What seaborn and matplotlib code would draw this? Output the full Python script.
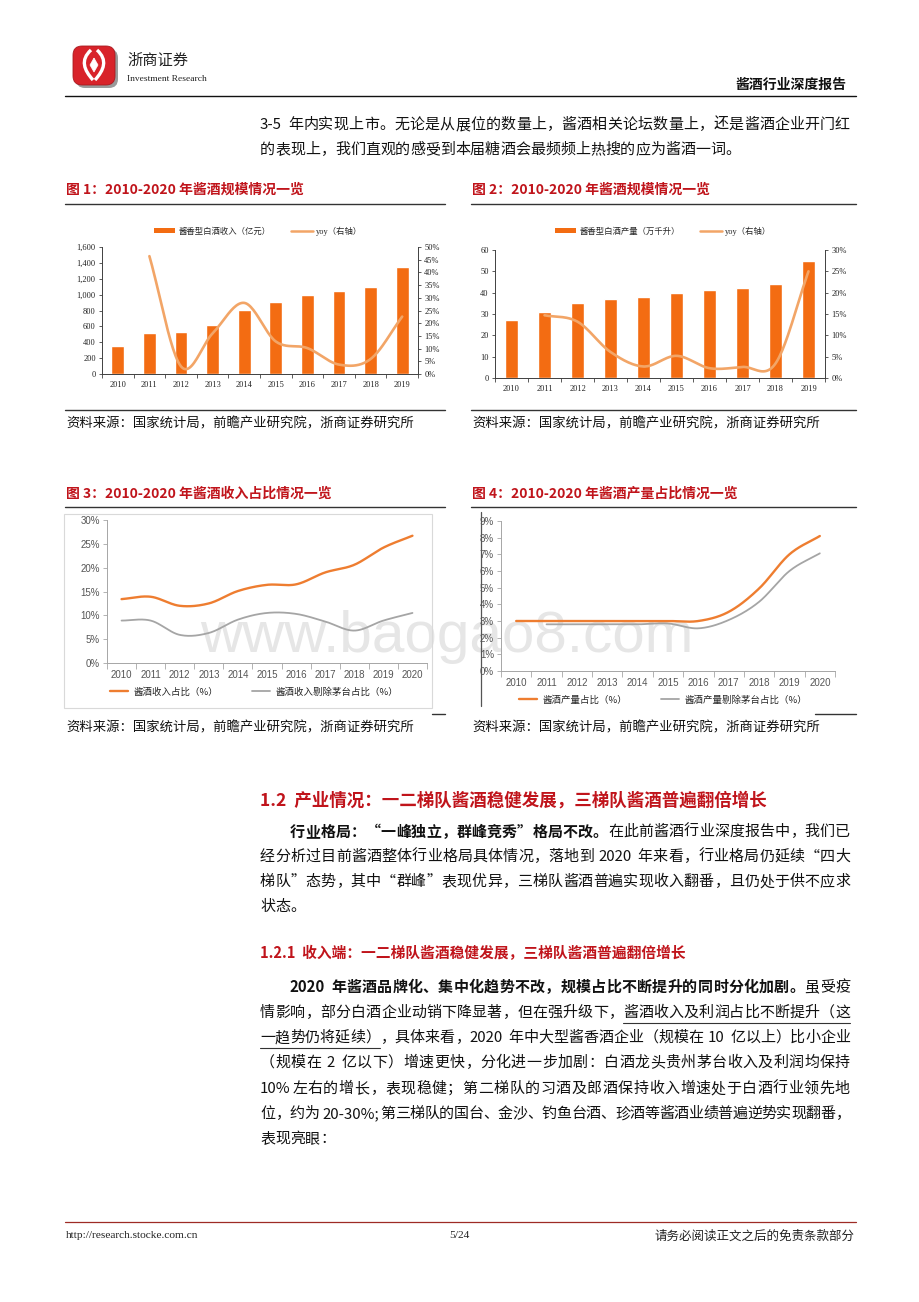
import numpy as np
import pandas as pd
import matplotlib
matplotlib.use("Agg")
import matplotlib.pyplot as plt
import seaborn as sns
from matplotlib.transforms import Affine2D
from matplotlib.lines import Line2D
from matplotlib.patches import FancyBboxPatch, Rectangle, Patch, PathPatch
from matplotlib.path import Path
from matplotlib.ticker import FuncFormatter

# ---------------- data ----------------
years_a = ["2010", "2011", "2012", "2013", "2014", "2015", "2016", "2017", "2018", "2019"]
revenue_100m = [349, 512, 529, 622, 802, 911, 1000, 1041, 1100, 1348]
revenue_yoy = [np.nan, 46.4, 3.0, 16.0, 28.0, 12.8, 10.2, 3.7, 5.9, 22.6]
volume_kkl = [27.1, 30.9, 35.0, 37.0, 38.1, 40.0, 41.1, 42.0, 44.0, 55.0]
volume_yoy = [np.nan, 14.7, 13.2, 6.1, 2.7, 5.2, 2.3, 2.6, 3.4, 25.0]

years_b = ["2010", "2011", "2012", "2013", "2014", "2015", "2016", "2017", "2018", "2019", "2020"]
rev_share = [13.4, 13.9, 12.0, 12.5, 15.1, 16.4, 16.5, 19.0, 20.6, 24.2, 26.7]
rev_share_ex_mt = [8.9, 8.9, 5.9, 6.3, 9.1, 10.5, 10.3, 8.7, 6.8, 8.9, 10.5]
vol_share = [3.0, 3.0, 3.0, 3.0, 3.0, 3.0, 3.0, 3.55, 4.95, 7.0, 8.1]
vol_share_ex_mt = [np.nan, 2.8, 2.8, 2.8, 2.8, 2.85, 2.56, 3.06, 4.15, 6.0, 7.06]

# ---------------- style ----------------
sns.set_style("ticks")
CJK = ['Noto Sans CJK SC', 'DejaVu Sans']
plt.rcParams['font.family'] = CJK
plt.rcParams['axes.unicode_minus'] = False

BAR_C = "#F36C12"
YOY_C = "#F2A567"
ORANGE = "#EE7D30"
GRAY = "#A5A5A5"
RED = "#C0141B"
BODY_SIZE = 10.8

W, H = 920, 1302
fig = plt.figure(figsize=(W / 100, H / 100), dpi=100)
PX = Affine2D().scale(1 / W, -1 / H).translate(0, 1) + fig.transFigure
renderer = fig.canvas.get_renderer()


def ax_at(l, t, r, b):
    a = fig.add_axes([l / W, 1 - b / H, (r - l) / W, (b - t) / H])
    a.set_facecolor('none')
    a.set_zorder(2)
    return a


def hline(x0, x1, y, color='#000000', lw=0.8, z=3):
    fig.add_artist(Line2D([x0, x1], [y, y], transform=PX, color=color, lw=lw, zorder=z))


def vline(x, y0, y1, color='#000000', lw=0.8):
    fig.add_artist(Line2D([x, x], [y0, y1], transform=PX, color=color, lw=lw))


def txt(x, y, s, size, color='#111111', weight='normal', ha='left', va='center', family=CJK, **kw):
    return fig.text(x, y, s, transform=PX, fontsize=size, color=color, fontweight=weight,
                    ha=ha, va=va, family=family, **kw)


def smooth(x, y, n=24):
    P = np.column_stack([np.asarray(x, float), np.asarray(y, float)])
    P = np.vstack([2 * P[0] - P[1], P, 2 * P[-1] - P[-2]])
    out = []
    t = np.linspace(0, 1, n, endpoint=False)[:, None]
    for i in range(1, len(P) - 2):
        p0, p1, p2, p3 = P[i - 1], P[i], P[i + 1], P[i + 2]
        seg = 0.5 * ((2 * p1) + (-p0 + p2) * t + (2 * p0 - 5 * p1 + 4 * p2 - p3) * t ** 2
                     + (-p0 + 3 * p1 - 3 * p2 + p3) * t ** 3)
        out.append(seg)
    out.append(P[-2][None, :])
    S = np.vstack(out)
    return S[:, 0], S[:, 1]


def tokens_of(s):
    # CJK characters one by one, ASCII words kept together, spaces separate
    toks, asc = [], ''
    for ch in s:
        if ord(ch) < 128 and ch != ' ':
            asc += ch
            continue
        if asc:
            toks.append(asc)
            asc = ''
        toks.append(ch)
    if asc:
        toks.append(asc)
    return toks


def para_line(x0, x1, y, runs, size=BODY_SIZE, justify=True, color='#111111'):
    em = size * 100 / 72
    items = []
    for ri, (text, bold, ul) in enumerate(runs):
        for tk in tokens_of(text):
            if tk == ' ':
                items.append((None, 0.3 * em, ul, ri))
                continue
            t = txt(0, y, tk, size, color=color, weight='bold' if bold else 'normal')
            if all(ord(c) < 128 for c in tk):
                w = t.get_window_extent(renderer).width + 1.0
            else:
                w = em
            items.append((t, w, ul, ri))
    natural = sum(it[1] for it in items)
    gap = (x1 - x0 - natural) / (len(items) - 1) if (justify and len(items) > 1) else 0.0
    x = x0
    spans = {}
    for t, w, ul, ri in items:
        if t is not None:
            t.set_x(x)
        if ul:
            s0, _ = spans.get(ri, (x, x + w))
            spans[ri] = (s0, x + w)
        x += w + gap
    for ri, (s0, s1) in spans.items():
        hline(s0, s1, y + 10, color='#333333', lw=0.8)


# ---------------- header ----------------
fig.add_artist(FancyBboxPatch((76, 49), 42, 39, boxstyle='round,pad=0,rounding_size=9',
                              transform=PX, fc='#9A9A9A', ec='none', zorder=1))
fig.add_artist(FancyBboxPatch((73, 46), 42, 39, boxstyle='round,pad=0,rounding_size=9',
                              transform=PX, fc='#D8232A', ec='#A81A20', lw=0.6, zorder=2))
for pts in ([(91, 50), (80, 60), (84, 70), (93, 80)], [(97, 50), (108, 60), (104, 70), (95, 80)]):
    p = Path(pts, [Path.MOVETO, Path.CURVE4, Path.CURVE4, Path.CURVE4])
    fig.add_artist(PathPatch(p, transform=PX, fc='none', ec='white', lw=2.4, zorder=3))
fig.add_artist(PathPatch(Path([(94, 58), (98, 65), (94, 72), (90, 65), (94, 58)]), transform=PX,
                         fc='white', ec='white', lw=0.5, zorder=3))
txt(127, 60, "浙商证券", 11, color='#222222')
txt(127, 79, "Investment Research", 6.8, color='#222222', family=['Liberation Serif'])
txt(846, 85, "酱酒行业深度报告", 10, color='#111111', weight='bold', ha='right')
hline(65, 856, 96, color='#111111', lw=1.0)

# ---------------- paragraph 1 ----------------
para_line(260, 850, 125, [("3-5 年内实现上市。无论是从展位的数量上，酱酒相关论坛数量上，还是酱酒企业开门红", False, False)])
para_line(260, 850, 150, [("的表现上，我们直观的感受到本届糖酒会最频频上热搜的应为酱酒一词。", False, False)], justify=False)

# ---------------- figure titles & rules ----------------
txt(66, 190, "图 1：2010-2020 年酱酒规模情况一览", 10, color=RED, weight='bold')
txt(472, 190, "图 2：2010-2020 年酱酒规模情况一览", 10, color=RED, weight='bold')
hline(65, 445, 204, color='#333333', lw=1.0)
hline(471, 856, 204, color='#333333', lw=1.0)
hline(65, 445, 410, color='#333333', lw=1.0)
hline(471, 856, 410, color='#333333', lw=1.0)
src = "资料来源：国家统计局，前瞻产业研究院，浙商证券研究所"
txt(66, 423, src, 9.6)
txt(472, 423, src, 9.6)

txt(66, 494, "图 3：2010-2020 年酱酒收入占比情况一览", 10, color=RED, weight='bold')
txt(472, 494, "图 4：2010-2020 年酱酒产量占比情况一览", 10, color=RED, weight='bold')
hline(65, 445, 507, color='#333333', lw=1.0)
hline(471, 856, 507, color='#333333', lw=1.0)
hline(432, 445, 714, color='#333333', lw=1.0)
hline(815, 856, 714, color='#333333', lw=1.0)
txt(66, 727, src, 9.6)
txt(472, 727, src, 9.6)

# chart frames
fig.add_artist(Rectangle((64, 514), 368, 194, transform=PX, fc='none', ec='#D9D9D9', lw=0.8))
vline(481, 512, 706, color='#555555', lw=0.9)

# watermark
txt(200, 652, "www.baogao8.com", 42, color='#E6E6E6', va='baseline',
    family=['Liberation Sans'], zorder=0.5)


# ---------------- charts 1 & 2 ----------------
def bar_combo(box, bars, yoy, ymax, ystep, fmt_left, y2max, y2step, bar_label, leg_xy):
    ax = ax_at(*box)
    n = len(years_a)
    pos = np.arange(n)
    sns.barplot(x=pos, y=bars, native_scale=True, color=BAR_C, saturation=1, width=0.4,
                ax=ax, zorder=2)
    ax.set_xlim(-0.5, n - 0.5)
    ax.set_ylim(0, ymax)
    ax.set_yticks(np.arange(0, ymax + ystep / 2, ystep))
    ax.yaxis.set_major_formatter(FuncFormatter(fmt_left))
    ax.set_xticks(pos)
    ax.set_xticklabels(years_a)
    ax.set_xticks(np.arange(-0.5, n, 1), minor=True)
    ax.tick_params(axis='x', which='major', length=0, labelsize=6, pad=5,
                   labelfontfamily='Liberation Serif', labelcolor='#222222')
    ax.tick_params(axis='x', which='minor', length=3, width=0.6, color='#404040', direction='out')
    ax.tick_params(axis='y', length=2.5, width=0.6, color='#404040', labelsize=6, pad=2,
                   labelfontfamily='Liberation Serif', labelcolor='#222222')
    for s in ['top', 'right']:
        ax.spines[s].set_visible(False)
    for s in ['left', 'bottom']:
        ax.spines[s].set_color('#404040')
        ax.spines[s].set_linewidth(0.7)
    ax.set_xlabel('')
    ax.set_ylabel('')

    ax2 = ax.twinx()
    ax2.set_facecolor('none')
    arr = np.array(yoy, float)
    m = ~np.isnan(arr)
    xs, ys = smooth(pos[m], arr[m])
    sns.lineplot(x=xs, y=ys, ax=ax2, color=YOY_C, linewidth=1.9, sort=False, estimator=None)
    ax2.set_ylim(0, y2max)
    ax2.set_yticks(np.arange(0, y2max + y2step / 2, y2step))
    ax2.yaxis.set_major_formatter(FuncFormatter(lambda v, p: f"{v:.0f}%"))
    ax2.tick_params(axis='y', length=2.5, width=0.6, color='#404040', labelsize=6, pad=2,
                    labelfontfamily='Liberation Serif', labelcolor='#222222')
    for s in ['top', 'left', 'bottom']:
        ax2.spines[s].set_visible(False)
    ax2.spines['right'].set_color('#404040')
    ax2.spines['right'].set_linewidth(0.7)
    ax2.set_xlabel('')
    ax2.set_ylabel('')
    ax2.set_xlim(-0.5, n - 0.5)

    handles = [Patch(facecolor=BAR_C, edgecolor='none'), Line2D([], [], color=YOY_C, lw=1.8)]
    ax2.legend(handles, [bar_label, "yoy（右轴）"], loc='center',
               bbox_to_anchor=(leg_xy[0] / W, 1 - leg_xy[1] / H), bbox_transform=fig.transFigure,
               ncol=2, frameon=False, prop={'family': ['Liberation Serif', 'Noto Sans CJK SC'], 'size': 6},
               handlelength=2.6, handleheight=0.5, columnspacing=2.4, handletextpad=0.4)


bar_combo((102, 247, 418, 374), revenue_100m, revenue_yoy, 1600, 200,
          lambda v, p: f"{v:,.0f}", 50, 5, "酱香型白酒收入（亿元）", (258, 231))
bar_combo((495, 250, 825, 378), volume_kkl, volume_yoy, 60, 10,
          lambda v, p: f"{v:.0f}", 30, 5, "酱香型白酒产量（万千升）", (663, 231))


# ---------------- charts 3 & 4 ----------------
def share_chart(box, s1, s2, ymax, ystep, lab1, lab2, leg_xy):
    ax = ax_at(*box)
    n = len(years_b)
    pos = np.arange(n)
    for series, color, lw in [(s2, GRAY, 1.3), (s1, ORANGE, 1.7)]:
        arr = np.array(series, float)
        m = ~np.isnan(arr)
        xs, ys = smooth(pos[m], arr[m])
        sns.lineplot(x=xs, y=ys, ax=ax, color=color, linewidth=lw, sort=False, estimator=None)
    ax.set_xlim(-0.5, n - 0.5)
    ax.set_ylim(0, ymax)
    ax.set_yticks(np.arange(0, ymax + ystep / 2, ystep))
    ax.yaxis.set_major_formatter(FuncFormatter(lambda v, p: f"{v:.0f}%"))
    ax.set_xticks(pos)
    ax.set_xticklabels(years_b)
    ax.set_xticks(np.arange(-0.5, n, 1), minor=True)
    ax.tick_params(axis='x', which='major', length=0, labelsize=7, pad=5,
                   labelfontfamily='Liberation Sans', labelcolor='#555555')
    ax.tick_params(axis='x', which='minor', length=4, width=0.6, color='#A6A6A6', direction='out')
    ax.tick_params(axis='y', length=3, width=0.6, color='#A6A6A6', labelsize=7, pad=2,
                   labelfontfamily='Liberation Sans', labelcolor='#555555')
    for s in ['top', 'right']:
        ax.spines[s].set_visible(False)
    for s in ['left', 'bottom']:
        ax.spines[s].set_color('#A6A6A6')
        ax.spines[s].set_linewidth(0.7)
    ax.set_xlabel('')
    ax.set_ylabel('')
    handles = [Line2D([], [], color=ORANGE, lw=1.7), Line2D([], [], color=GRAY, lw=1.3)]
    ax.legend(handles, [lab1, lab2], loc='center',
              bbox_to_anchor=(leg_xy[0] / W, 1 - leg_xy[1] / H), bbox_transform=fig.transFigure,
              ncol=2, frameon=False, prop={'family': CJK, 'size': 6.8},
              handlelength=1.9, columnspacing=3.6, handletextpad=0.6)


share_chart((107, 520, 427, 663), rev_share, rev_share_ex_mt, 30, 5,
            "酱酒收入占比（%）", "酱酒收入剔除茅台占比（%）", (254, 692))
share_chart((501, 521, 835, 671), vol_share, vol_share_ex_mt, 9, 1,
            "酱酒产量占比（%）", "酱酒产量剔除茅台占比（%）", (663, 700))

# ---------------- section 1.2 ----------------
txt(260, 801, "1.2  产业情况：一二梯队酱酒稳健发展，三梯队酱酒普遍翻倍增长", 12.6, color=RED, weight='bold')
para_line(290, 850, 832, [("行业格局：“一峰独立，群峰竞秀”格局不改。", True, False),
                          ("在此前酱酒行业深度报告中，我们已", False, False)])
para_line(260, 850, 857, [("经分析过目前酱酒整体行业格局具体情况，落地到 2020 年来看，行业格局仍延续“四大", False, False)])
para_line(260, 850, 882, [("梯队”态势，其中“群峰”表现优异，三梯队酱酒普遍实现收入翻番，且仍处于供不应求", False, False)])
para_line(260, 850, 907, [("状态。", False, False)], justify=False)

txt(260, 953, "1.2.1  收入端：一二梯队酱酒稳健发展，三梯队酱酒普遍翻倍增长", 10.6, color=RED, weight='bold')
para_line(290, 850, 987, [("2020 年酱酒品牌化、集中化趋势不改，规模占比不断提升的同时分化加剧。", True, False),
                          ("虽受疫", False, False)])
para_line(260, 850, 1013, [("情影响，部分白酒企业动销下降显著，但在强升级下，", False, False),
                           ("酱酒收入及利润占比不断提升（这", False, True)])
para_line(260, 850, 1038, [("一趋势仍将延续）", False, True),
                           ("，具体来看，2020 年中大型酱香酒企业（规模在 10 亿以上）比小企业", False, False)])
para_line(260, 850, 1063, [("（规模在 2 亿以下）增速更快，分化进一步加剧：白酒龙头贵州茅台收入及利润均保持", False, False)])
para_line(260, 850, 1089, [("10%左右的增长，表现稳健；第二梯队的习酒及郎酒保持收入增速处于白酒行业领先地", False, False)])
para_line(260, 850, 1114, [("位，约为 20-30%;第三梯队的国台、金沙、钓鱼台酒、珍酒等酱酒业绩普遍逆势实现翻番，", False, False)])
para_line(260, 850, 1139, [("表现亮眼：", False, False)], justify=False)

# ---------------- footer ----------------
hline(65, 856, 1222, color='#9E2B25', lw=0.9)
txt(66, 1236, "http://research.stocke.com.cn", 8.2, color='#222222', family=['Liberation Serif'])
txt(459, 1236, "5/24", 8.2, color='#222222', ha='center', family=['Liberation Serif'])
txt(855, 1236, "请务必阅读正文之后的免责条款部分", 9, color='#222222', ha='right')

fig.savefig("out.png", dpi=100)
